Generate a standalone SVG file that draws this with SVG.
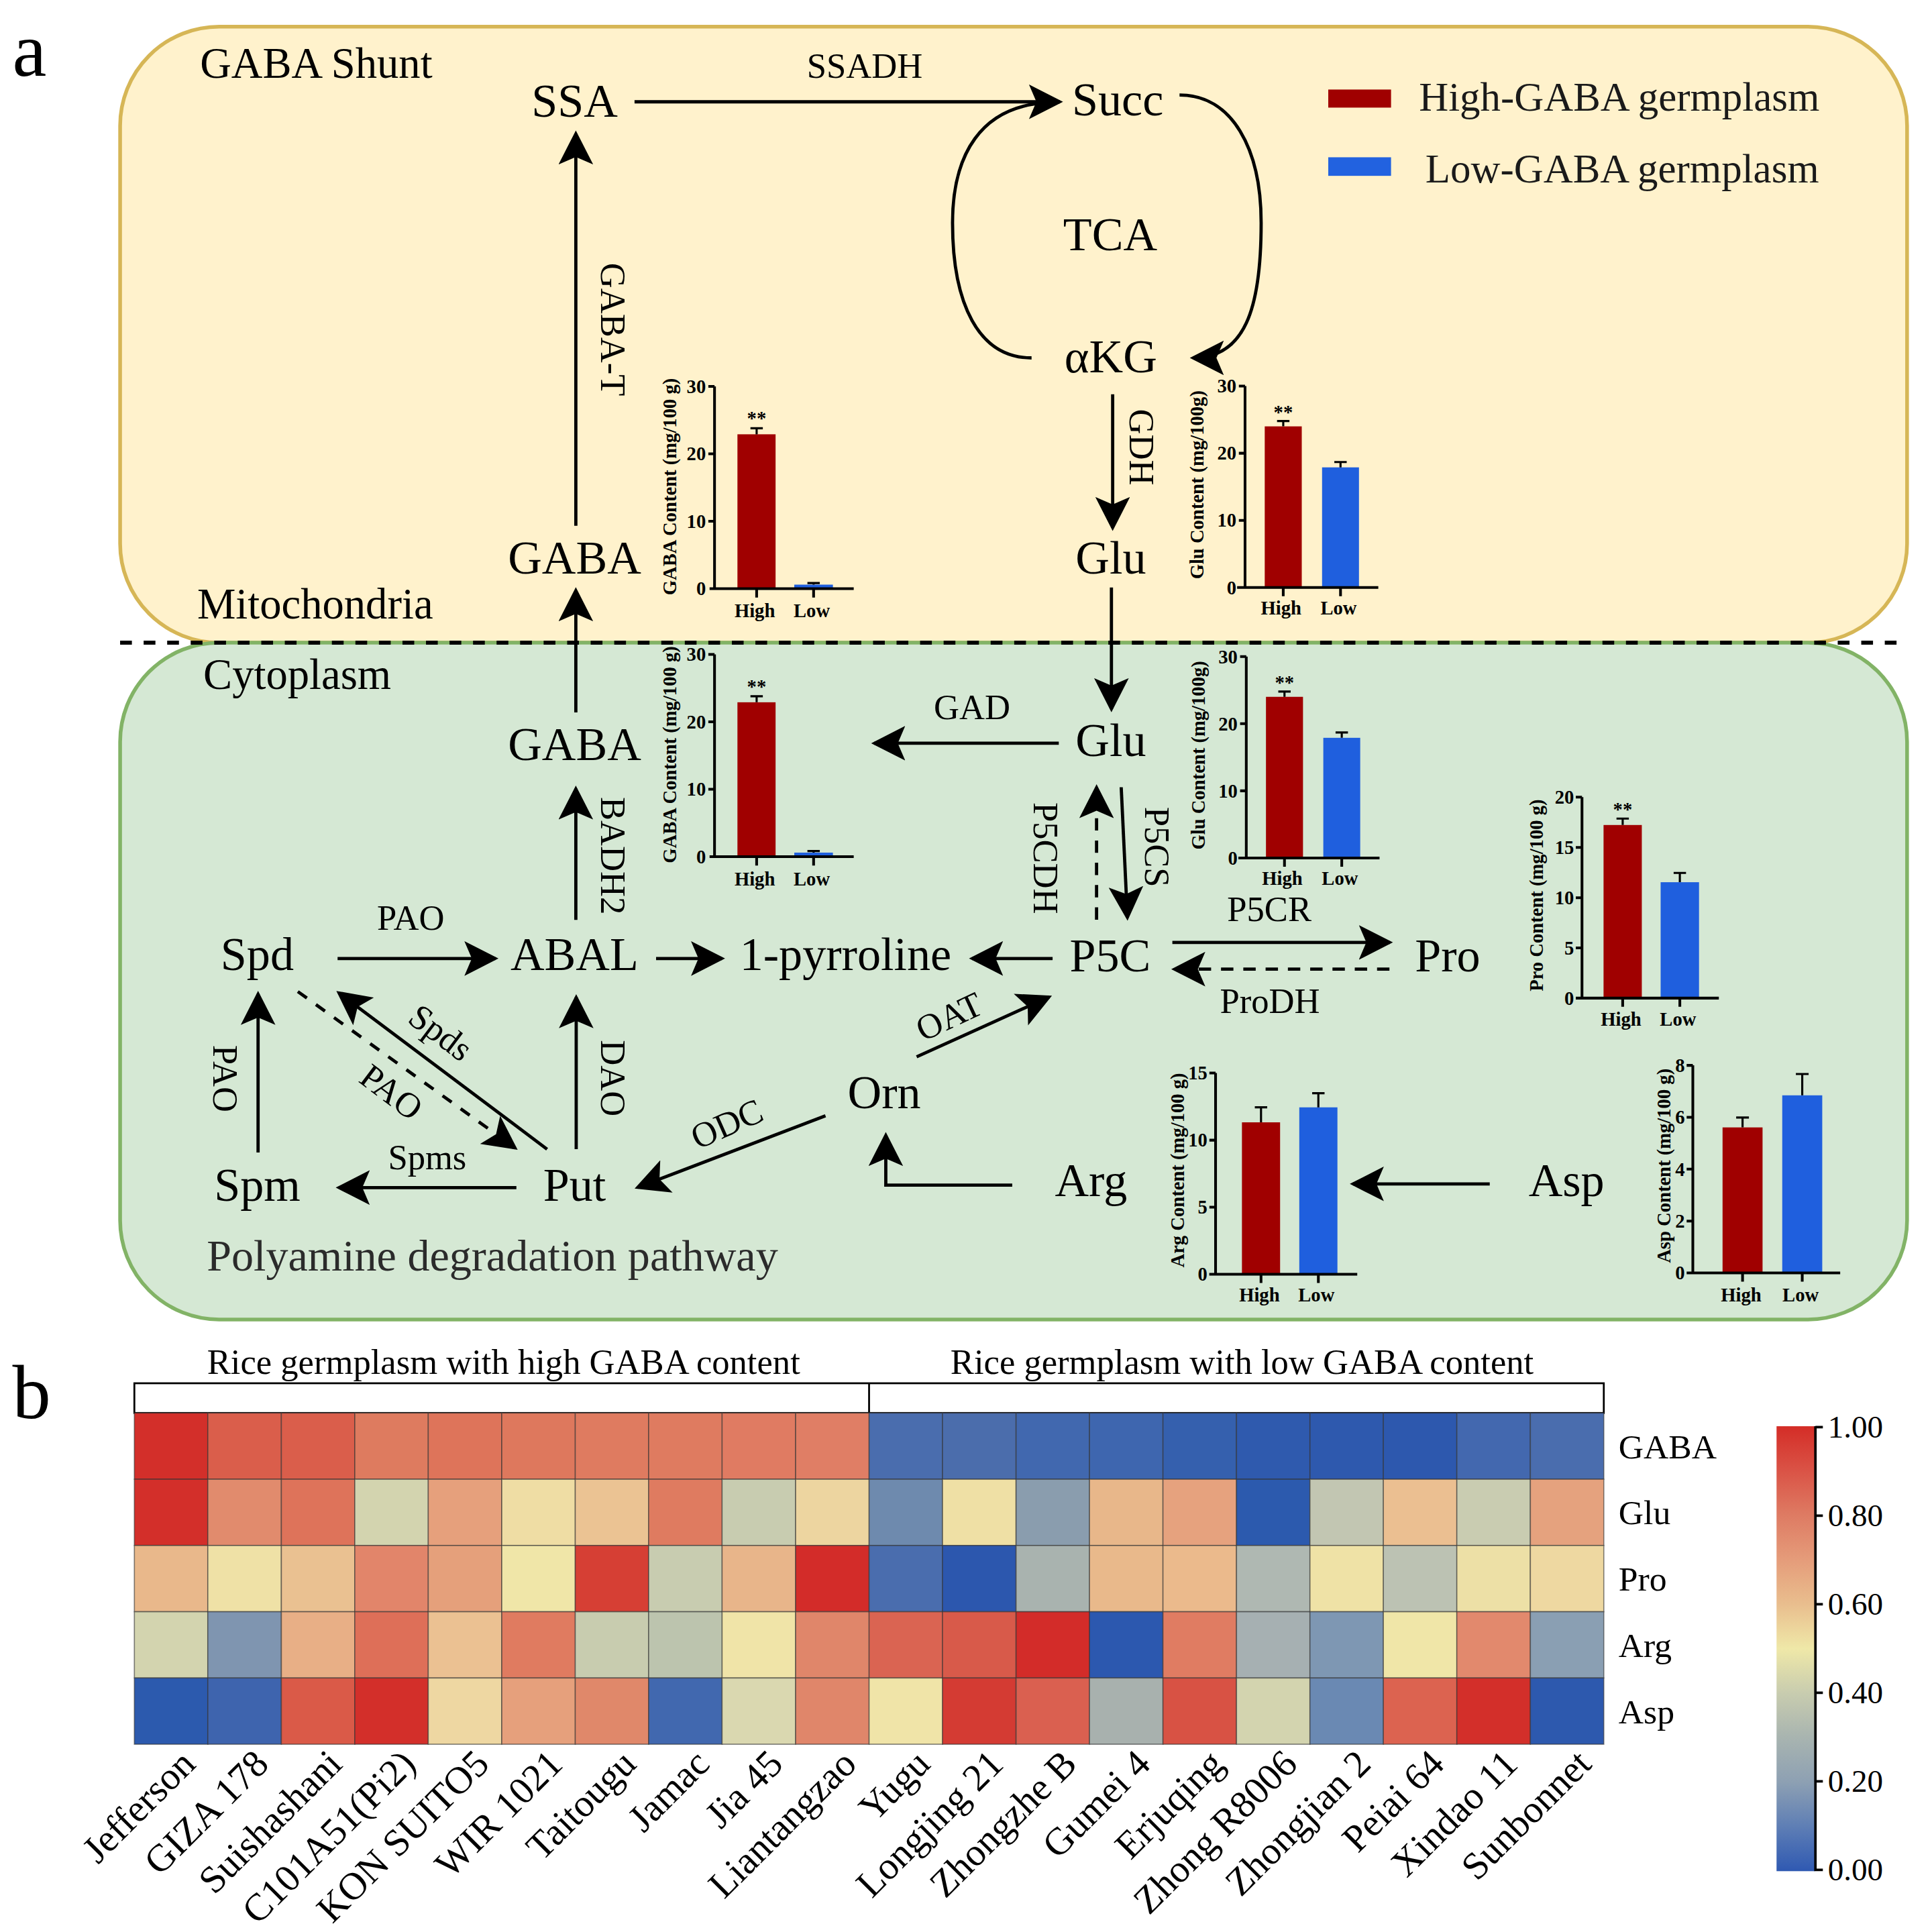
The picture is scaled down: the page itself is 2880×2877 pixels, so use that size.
<svg xmlns="http://www.w3.org/2000/svg" width="2880" height="2877" viewBox="0 0 2880 2877">
<defs>
<marker id="ah" markerUnits="userSpaceOnUse" viewBox="0 0 28 28" markerWidth="28" markerHeight="28" refX="25" refY="14" orient="auto"><path d="M0,0 L27.5,14 L0,28 L6,14 Z" fill="#000"/></marker>
<linearGradient id="cbar" x1="0" y1="0" x2="0" y2="1">
<stop offset="0" stop-color="#D42D27"/><stop offset="0.1" stop-color="#DA5346"/><stop offset="0.2" stop-color="#DE7B63"/><stop offset="0.3" stop-color="#E59C7A"/><stop offset="0.4" stop-color="#E9BE8E"/><stop offset="0.5" stop-color="#EFE8A8"/><stop offset="0.6" stop-color="#C8CCAF"/><stop offset="0.7" stop-color="#A8B4B0"/><stop offset="0.8" stop-color="#8DA0B3"/><stop offset="0.9" stop-color="#5E7EB5"/><stop offset="1" stop-color="#2F59B2"/>
</linearGradient>
<style>
text{font-family:"Liberation Serif","Times New Roman",serif;fill:#000}
.node{font-size:38px;text-anchor:middle}
.enz{font-size:28.5px;text-anchor:middle}
.panel{font-size:35px}
.lab{font-size:62px}
.leg{font-size:33px;fill:#1a1a1a}
.ch{font-weight:bold;font-size:15.5px}
.tk{font-weight:bold;font-size:15.5px;text-anchor:end}
.mid{text-anchor:middle}
.arr{fill:none;stroke:#000;stroke-width:2.6;marker-end:url(#ah)}
.ln{fill:none;stroke:#000;stroke-width:2.6}
.dsh{stroke-dasharray:10 8}
.ax{fill:none;stroke:#000;stroke-width:2.2}
.eb{fill:none;stroke:#000;stroke-width:1.7}
.red{fill:#A00000}
.blue{fill:#1F5FDE}
.cell{stroke:#333;stroke-width:0.9;stroke-opacity:0.6}
.col{font-size:31px;text-anchor:end}
.row{font-size:28px}
.cb{font-size:25.5px}
</style>
</defs>
<rect x="0" y="0" width="2880" height="2877" fill="#fff"/>
<g transform="scale(1.846)">
<g id="panels">
<rect id="mitochondria" x="97" y="21.5" width="1443" height="497.5" rx="80" ry="80" fill="#FFF2CC" stroke="#D6B656" stroke-width="3"/>
<rect id="cytoplasm" x="97" y="519" width="1443" height="546.5" rx="80" ry="80" fill="#D5E8D4" stroke="#82B366" stroke-width="3"/>
<path d="M97,519H1540" stroke="#000" stroke-width="3.3" stroke-dasharray="9.5 9.5" fill="none"/>
</g>
<text class="lab" x="10" y="61">a</text>
<text class="panel" x="161.5" y="63">GABA Shunt</text>
<text class="panel" x="159.2" y="499.2">Mitochondria</text>
<text class="panel" x="164.2" y="556.3">Cytoplasm</text>
<text class="panel" x="167" y="1026" style="font-size:35.8px;fill:#2b2b2b">Polyamine degradation pathway</text>
<g id="legend">
<rect x="1072.6" y="72.3" width="50.7" height="14.6" fill="#A00000"/>
<rect x="1072.6" y="127" width="50.7" height="15" fill="#2262E0"/>
<text class="leg" x="1145.8" y="89.6">High-GABA germplasm</text>
<text class="leg" x="1151" y="147.6">Low-GABA germplasm</text>
</g>
<g id="connectors">
<path class="arr" d="M512.4,82.2H855.9"/>
<path class="ln" d="M833,289 C790,289 769.2,245 769.2,180 C769.2,125 792,86 845,83"/>
<path class="arr" d="M952.5,76.7 C995,76.7 1018.4,120 1018.4,180 C1018.4,250 1005,289 963.3,289"/>
<path class="arr" d="M465,424.6V107.8"/>
<path class="arr" d="M898.5,318.4V426.3"/>
<path class="arr" d="M897.5,474.4V572.6"/>
<path class="arr" d="M465,575.3V476.7"/>
<path class="arr" d="M855,600.2H706"/>
<path class="arr" d="M465,742.8V636.8"/>
<path class="arr" d="M272.6,774H400"/>
<path class="arr" d="M529.8,774H583"/>
<path class="arr" d="M850,774H785"/>
<path class="arr" d="M946.7,761H1122.3"/>
<path class="arr dsh" d="M1122,782.6H948.3"/>
<path class="arr dsh" d="M885.5,742.7V635.7"/>
<path class="arr" d="M905.4,635.7L910.4,741"/>
<path class="arr" d="M208.4,930.7V802.6"/>
<path class="arr dsh" d="M240.5,800.7L416,927" style="stroke-dasharray:9 9"/>
<path class="arr" d="M441.8,928L273.6,801.7"/>
<path class="arr" d="M465.3,928V805.3"/>
<path class="arr" d="M417,959H273.6"/>
<path class="arr" d="M666.6,901L514.8,958.9"/>
<path class="arr" d="M740.2,853.4L847.2,805"/>
<path class="arr" d="M817.4,957H715.3V916.6"/>
<path class="arr" d="M1203,956H1092.5"/>
</g>
<g id="node-SSA"><text class="node" x="464" y="94.5">SSA</text></g>
<g id="node-Succ"><text class="node" x="902.6" y="93">Succ</text></g>
<g id="node-TCA"><text class="node" x="896.5" y="202">TCA</text></g>
<g id="node-aKG"><text class="node" x="897" y="300.6">αKG</text></g>
<g id="node-GABA-mito"><text class="node" x="464" y="463">GABA</text></g>
<g id="node-Glu-mito"><text class="node" x="897" y="463">Glu</text></g>
<g id="node-GABA-cyto"><text class="node" x="464" y="614">GABA</text></g>
<g id="node-Glu-cyto"><text class="node" x="897" y="610.5">Glu</text></g>
<g id="node-Spd"><text class="node" x="207.7" y="783.3">Spd</text></g>
<g id="node-ABAL"><text class="node" x="463.9" y="783.3">ABAL</text></g>
<g id="node-pyrroline"><text class="node" x="682.8" y="783.3">1-pyrroline</text></g>
<g id="node-P5C"><text class="node" x="896.5" y="784.3">P5C</text></g>
<g id="node-Pro"><text class="node" x="1169" y="784.3">Pro</text></g>
<g id="node-Orn"><text class="node" x="714" y="895">Orn</text></g>
<g id="node-Spm"><text class="node" x="207.8" y="969.6">Spm</text></g>
<g id="node-Put"><text class="node" x="464" y="969.6">Put</text></g>
<g id="node-Arg"><text class="node" x="881" y="965.7">Arg</text></g>
<g id="node-Asp"><text class="node" x="1265" y="965.7">Asp</text></g>
<g id="enzymes">
<text class="enz" x="698.3" y="63">SSADH</text>
<text class="enz" transform="translate(485.5,266) rotate(90)">GABA-T</text>
<text class="enz" transform="translate(912,361) rotate(90)">GDH</text>
<text class="enz" x="785" y="580.5">GAD</text>
<text class="enz" transform="translate(485.5,691) rotate(90)">BADH2</text>
<text class="enz" transform="translate(835,693) rotate(90)">P5CDH</text>
<text class="enz" transform="translate(924.5,684) rotate(90)">P5CS</text>
<text class="enz" x="331.7" y="750.8">PAO</text>
<text class="enz" x="1025" y="744">P5CR</text>
<text class="enz" x="1025.5" y="817.8">ProDH</text>
<text class="enz" transform="translate(766.5,821) rotate(-25)" y="9.4">OAT</text>
<text class="enz" transform="translate(587,907.7) rotate(-24)" y="9.4">ODC</text>
<text class="enz" transform="translate(355,835) rotate(37)" y="8">Spds</text>
<text class="enz" transform="translate(316,882) rotate(37)" y="9.4">PAO</text>
<text class="enz" transform="translate(172,871) rotate(90)">PAO</text>
<text class="enz" transform="translate(485.5,870.7) rotate(90)">DAO</text>
<text class="enz" x="345" y="944">Spms</text>
</g>
<g id="chart-gaba-mito">
<rect class="red" x="595.5" y="350.7" width="30.8" height="124.7"/>
<rect class="blue" x="641.4" y="472.1" width="31.2" height="3.3"/>
<path class="eb" d="M611,350.7V345.8M606,345.8H616M657,472.1V470.8M652,470.8H662"/>
<path class="ax" d="M577,312V475.4M573,475.4H689.4M572,420.9H577M572,366.5H577M572,312H577M611,475.4V482.5M657,475.4V482.5"/>
<text class="tk" x="570" y="480.7">0</text><text class="tk" x="570" y="426.2">10</text><text class="tk" x="570" y="371.8">20</text><text class="tk" x="570" y="317.3">30</text>
<text class="ch mid" x="611" y="343">**</text>
<text class="ch mid" x="609.5" y="498.5">High</text><text class="ch mid" x="655.5" y="498.5">Low</text>
<text class="ch mid" transform="translate(546,393) rotate(-90)">GABA Content (mg/100 g)</text>
</g>
<g id="chart-gaba-cyto" transform="translate(0,216.4)">
<rect class="red" x="595.5" y="350.7" width="30.8" height="124.7"/>
<rect class="blue" x="641.4" y="472.1" width="31.2" height="3.3"/>
<path class="eb" d="M611,350.7V345.8M606,345.8H616M657,472.1V470.8M652,470.8H662"/>
<path class="ax" d="M577,312V475.4M573,475.4H689.4M572,420.9H577M572,366.5H577M572,312H577M611,475.4V482.5M657,475.4V482.5"/>
<text class="tk" x="570" y="480.7">0</text><text class="tk" x="570" y="426.2">10</text><text class="tk" x="570" y="371.8">20</text><text class="tk" x="570" y="317.3">30</text>
<text class="ch mid" x="611" y="343">**</text>
<text class="ch mid" x="609.5" y="498.5">High</text><text class="ch mid" x="655.5" y="498.5">Low</text>
<text class="ch mid" transform="translate(546,393) rotate(-90)">GABA Content (mg/100 g)</text>
</g>
<g id="chart-glu-mito">
<rect class="red" x="1021.3" y="344.3" width="29.9" height="130.1"/>
<rect class="blue" x="1067.6" y="377.4" width="29.8" height="97"/>
<path class="eb" d="M1036.25,344.3V340M1031.25,340H1041.25M1082.5,377.4V373.1M1077.5,373.1H1087.5"/>
<path class="ax" d="M1005.4,311.8V474.4M999,474.4H1113M1000.4,420.2H1005.4M1000.4,366H1005.4M1000.4,311.8H1005.4M1036.25,474.4V481.5M1082.5,474.4V481.5"/>
<text class="tk" x="998.4" y="479.7">0</text><text class="tk" x="998.4" y="425.5">10</text><text class="tk" x="998.4" y="371.3">20</text><text class="tk" x="998.4" y="317.1">30</text>
<text class="ch mid" x="1036.25" y="338">**</text>
<text class="ch mid" x="1034.5" y="496">High</text><text class="ch mid" x="1081" y="496">Low</text>
<text class="ch mid" transform="translate(972,391.5) rotate(-90)">Glu Content (mg/100g)</text>
</g>
<g id="chart-glu-cyto" transform="translate(1,218.4)">
<rect class="red" x="1021.3" y="344.3" width="29.9" height="130.1"/>
<rect class="blue" x="1067.6" y="377.4" width="29.8" height="97"/>
<path class="eb" d="M1036.25,344.3V340M1031.25,340H1041.25M1082.5,377.4V373.1M1077.5,373.1H1087.5"/>
<path class="ax" d="M1005.4,311.8V474.4M999,474.4H1113M1000.4,420.2H1005.4M1000.4,366H1005.4M1000.4,311.8H1005.4M1036.25,474.4V481.5M1082.5,474.4V481.5"/>
<text class="tk" x="998.4" y="479.7">0</text><text class="tk" x="998.4" y="425.5">10</text><text class="tk" x="998.4" y="371.3">20</text><text class="tk" x="998.4" y="317.1">30</text>
<text class="ch mid" x="1036.25" y="338">**</text>
<text class="ch mid" x="1034.5" y="496">High</text><text class="ch mid" x="1081" y="496">Low</text>
<text class="ch mid" transform="translate(972,391.5) rotate(-90)">Glu Content (mg/100g)</text>
</g>
<g id="chart-pro">
<rect class="red" x="1294.9" y="666.2" width="30.9" height="139.8"/>
<rect class="blue" x="1341" y="712.4" width="31" height="93.6"/>
<path class="eb" d="M1310.35,666.2V661M1305.35,661H1315.35M1356.5,712.4V704.9M1351.5,704.9H1361.5"/>
<path class="ax" d="M1277.5,643.7V806M1272.5,806H1388M1272.5,765.4H1277.5M1272.5,724.9H1277.5M1272.5,684.3H1277.5M1272.5,643.7H1277.5M1310.35,806V813M1356.5,806V813"/>
<text class="tk" x="1271" y="811.3">0</text><text class="tk" x="1271" y="770.7">5</text><text class="tk" x="1271" y="730.2">10</text><text class="tk" x="1271" y="689.6">15</text><text class="tk" x="1271" y="649">20</text>
<text class="ch mid" x="1310.35" y="658.5">**</text>
<text class="ch mid" x="1309" y="828.5">High</text><text class="ch mid" x="1355" y="828.5">Low</text>
<text class="ch mid" transform="translate(1246,723) rotate(-90)">Pro Content (mg/100 g)</text>
</g>
<g id="chart-arg">
<rect class="red" x="1002.9" y="906.3" width="30.8" height="122.7"/>
<rect class="blue" x="1049.2" y="894.2" width="30.8" height="134.8"/>
<path class="eb" d="M1018.3,906.3V894.2M1013.3,894.2H1023.3M1064.6,894.2V882.8M1059.6,882.8H1069.6"/>
<path class="ax" d="M981.6,866.5V1029M976.5,1029H1096M976.6,974.8H981.6M976.6,920.7H981.6M976.6,866.5H981.6M1018.3,1029V1036M1064.6,1029V1036"/>
<text class="tk" x="975" y="1034.3">0</text><text class="tk" x="975" y="980.1">5</text><text class="tk" x="975" y="926">10</text><text class="tk" x="975" y="871.8">15</text>
<text class="ch mid" x="1017" y="1051">High</text><text class="ch mid" x="1063" y="1051">Low</text>
<text class="ch mid" transform="translate(956,945) rotate(-90)">Arg Content (mg/100 g)</text>
</g>
<g id="chart-asp">
<rect class="red" x="1391" y="910.4" width="32.3" height="117.5"/>
<rect class="blue" x="1439.2" y="884.5" width="32.3" height="143.4"/>
<path class="eb" d="M1407.15,910.4V902.4M1402,902.4H1412.3M1455.35,884.5V867.3M1450.2,867.3H1460.5"/>
<path class="ax" d="M1367,860.3V1027.9M1362,1027.9H1486M1362,986H1367M1362,944.1H1367M1362,902.2H1367M1362,860.3H1367M1407.15,1027.9V1035M1455.35,1027.9V1035"/>
<text class="tk" x="1360.5" y="1033.2">0</text><text class="tk" x="1360.5" y="991.3">2</text><text class="tk" x="1360.5" y="949.4">4</text><text class="tk" x="1360.5" y="907.5">6</text><text class="tk" x="1360.5" y="865.6">8</text>
<text class="ch mid" x="1406" y="1051">High</text><text class="ch mid" x="1454" y="1051">Low</text>
<text class="ch mid" transform="translate(1349,941.4) rotate(-90)">Asp Content (mg/100 g)</text>
</g>
<g id="panel-b">
<text class="lab" x="10" y="1145">b</text>
<text x="406.7" y="1109.2" style="font-size:28.5px;text-anchor:middle">Rice germplasm with high GABA content</text>
<text x="1003" y="1109.2" style="font-size:28.5px;text-anchor:middle">Rice germplasm with low GABA content</text>
<rect x="108.5" y="1117" width="1186.6" height="24" fill="#fff" stroke="#000" stroke-width="1.5"/>
<path d="M701.8,1117V1141" stroke="#000" stroke-width="1.5"/>
<g id="heatmap">
<rect class="cell" x="108.5" y="1141" width="59.4" height="53.5" fill="#D32F2A"/><rect class="cell" x="108.5" y="1194.5" width="59.4" height="53.5" fill="#D32F2A"/><rect class="cell" x="108.5" y="1248" width="59.4" height="53.5" fill="#E9B88B"/><rect class="cell" x="108.5" y="1301.5" width="59.4" height="53.5" fill="#D3D4AF"/><rect class="cell" x="108.5" y="1355" width="59.4" height="53.5" fill="#2C5AAE"/>
<rect class="cell" x="167.8" y="1141" width="59.4" height="53.5" fill="#DA5E4B"/><rect class="cell" x="167.8" y="1194.5" width="59.4" height="53.5" fill="#E18B6D"/><rect class="cell" x="167.8" y="1248" width="59.4" height="53.5" fill="#EFE1A6"/><rect class="cell" x="167.8" y="1301.5" width="59.4" height="53.5" fill="#7F95B0"/><rect class="cell" x="167.8" y="1355" width="59.4" height="53.5" fill="#3E64AE"/>
<rect class="cell" x="227.2" y="1141" width="59.4" height="53.5" fill="#DA5E4B"/><rect class="cell" x="227.2" y="1194.5" width="59.4" height="53.5" fill="#DE735A"/><rect class="cell" x="227.2" y="1248" width="59.4" height="53.5" fill="#EAC191"/><rect class="cell" x="227.2" y="1301.5" width="59.4" height="53.5" fill="#E8AF86"/><rect class="cell" x="227.2" y="1355" width="59.4" height="53.5" fill="#DA5A48"/>
<rect class="cell" x="286.5" y="1141" width="59.4" height="53.5" fill="#DE7B5F"/><rect class="cell" x="286.5" y="1194.5" width="59.4" height="53.5" fill="#D3D4AF"/><rect class="cell" x="286.5" y="1248" width="59.4" height="53.5" fill="#E2856A"/><rect class="cell" x="286.5" y="1301.5" width="59.4" height="53.5" fill="#DE6F58"/><rect class="cell" x="286.5" y="1355" width="59.4" height="53.5" fill="#D32F2A"/>
<rect class="cell" x="345.8" y="1141" width="59.4" height="53.5" fill="#DE745A"/><rect class="cell" x="345.8" y="1194.5" width="59.4" height="53.5" fill="#E6A07C"/><rect class="cell" x="345.8" y="1248" width="59.4" height="53.5" fill="#E5A07B"/><rect class="cell" x="345.8" y="1301.5" width="59.4" height="53.5" fill="#EBC192"/><rect class="cell" x="345.8" y="1355" width="59.4" height="53.5" fill="#EED7A2"/>
<rect class="cell" x="405.2" y="1141" width="59.4" height="53.5" fill="#DE785D"/><rect class="cell" x="405.2" y="1194.5" width="59.4" height="53.5" fill="#EFDDA4"/><rect class="cell" x="405.2" y="1248" width="59.4" height="53.5" fill="#F0E6A8"/><rect class="cell" x="405.2" y="1301.5" width="59.4" height="53.5" fill="#E07B60"/><rect class="cell" x="405.2" y="1355" width="59.4" height="53.5" fill="#E6A07C"/>
<rect class="cell" x="464.5" y="1141" width="59.4" height="53.5" fill="#DF7B60"/><rect class="cell" x="464.5" y="1194.5" width="59.4" height="53.5" fill="#EBC393"/><rect class="cell" x="464.5" y="1248" width="59.4" height="53.5" fill="#D63F34"/><rect class="cell" x="464.5" y="1301.5" width="59.4" height="53.5" fill="#C8CCAF"/><rect class="cell" x="464.5" y="1355" width="59.4" height="53.5" fill="#E0886A"/>
<rect class="cell" x="523.8" y="1141" width="59.4" height="53.5" fill="#DF7B60"/><rect class="cell" x="523.8" y="1194.5" width="59.4" height="53.5" fill="#DF7B60"/><rect class="cell" x="523.8" y="1248" width="59.4" height="53.5" fill="#C8CCB0"/><rect class="cell" x="523.8" y="1301.5" width="59.4" height="53.5" fill="#BCC4AE"/><rect class="cell" x="523.8" y="1355" width="59.4" height="53.5" fill="#4168AF"/>
<rect class="cell" x="583.1" y="1141" width="59.4" height="53.5" fill="#E07B62"/><rect class="cell" x="583.1" y="1194.5" width="59.4" height="53.5" fill="#C8CCB0"/><rect class="cell" x="583.1" y="1248" width="59.4" height="53.5" fill="#E8B58A"/><rect class="cell" x="583.1" y="1301.5" width="59.4" height="53.5" fill="#F0E4A8"/><rect class="cell" x="583.1" y="1355" width="59.4" height="53.5" fill="#DAD8B0"/>
<rect class="cell" x="642.5" y="1141" width="59.4" height="53.5" fill="#E07E65"/><rect class="cell" x="642.5" y="1194.5" width="59.4" height="53.5" fill="#EDD5A0"/><rect class="cell" x="642.5" y="1248" width="59.4" height="53.5" fill="#D32C29"/><rect class="cell" x="642.5" y="1301.5" width="59.4" height="53.5" fill="#E0866A"/><rect class="cell" x="642.5" y="1355" width="59.4" height="53.5" fill="#E0866A"/>
<rect class="cell" x="701.8" y="1141" width="59.4" height="53.5" fill="#4A6DAE"/><rect class="cell" x="701.8" y="1194.5" width="59.4" height="53.5" fill="#6E8AAE"/><rect class="cell" x="701.8" y="1248" width="59.4" height="53.5" fill="#4A6DAE"/><rect class="cell" x="701.8" y="1301.5" width="59.4" height="53.5" fill="#DA6452"/><rect class="cell" x="701.8" y="1355" width="59.4" height="53.5" fill="#F0E4A8"/>
<rect class="cell" x="761.1" y="1141" width="59.4" height="53.5" fill="#4B6DAC"/><rect class="cell" x="761.1" y="1194.5" width="59.4" height="53.5" fill="#EFE0A5"/><rect class="cell" x="761.1" y="1248" width="59.4" height="53.5" fill="#2C57AE"/><rect class="cell" x="761.1" y="1301.5" width="59.4" height="53.5" fill="#D85A4A"/><rect class="cell" x="761.1" y="1355" width="59.4" height="53.5" fill="#D43B33"/>
<rect class="cell" x="820.5" y="1141" width="59.4" height="53.5" fill="#4168AF"/><rect class="cell" x="820.5" y="1194.5" width="59.4" height="53.5" fill="#8A9DAE"/><rect class="cell" x="820.5" y="1248" width="59.4" height="53.5" fill="#A9B3AF"/><rect class="cell" x="820.5" y="1301.5" width="59.4" height="53.5" fill="#D32C29"/><rect class="cell" x="820.5" y="1355" width="59.4" height="53.5" fill="#DA6050"/>
<rect class="cell" x="879.8" y="1141" width="59.4" height="53.5" fill="#3E66AF"/><rect class="cell" x="879.8" y="1194.5" width="59.4" height="53.5" fill="#E8B78A"/><rect class="cell" x="879.8" y="1248" width="59.4" height="53.5" fill="#E9B98B"/><rect class="cell" x="879.8" y="1301.5" width="59.4" height="53.5" fill="#2C58AF"/><rect class="cell" x="879.8" y="1355" width="59.4" height="53.5" fill="#A8B1AE"/>
<rect class="cell" x="939.1" y="1141" width="59.4" height="53.5" fill="#3560AE"/><rect class="cell" x="939.1" y="1194.5" width="59.4" height="53.5" fill="#E6A27E"/><rect class="cell" x="939.1" y="1248" width="59.4" height="53.5" fill="#EBBA8C"/><rect class="cell" x="939.1" y="1301.5" width="59.4" height="53.5" fill="#E07C62"/><rect class="cell" x="939.1" y="1355" width="59.4" height="53.5" fill="#D85244"/>
<rect class="cell" x="998.5" y="1141" width="59.4" height="53.5" fill="#2F5AAE"/><rect class="cell" x="998.5" y="1194.5" width="59.4" height="53.5" fill="#2C5AAE"/><rect class="cell" x="998.5" y="1248" width="59.4" height="53.5" fill="#AFB8B2"/><rect class="cell" x="998.5" y="1301.5" width="59.4" height="53.5" fill="#A6B0B2"/><rect class="cell" x="998.5" y="1355" width="59.4" height="53.5" fill="#D3D4AF"/>
<rect class="cell" x="1057.8" y="1141" width="59.4" height="53.5" fill="#2E59AE"/><rect class="cell" x="1057.8" y="1194.5" width="59.4" height="53.5" fill="#C2C6B2"/><rect class="cell" x="1057.8" y="1248" width="59.4" height="53.5" fill="#EFE2A6"/><rect class="cell" x="1057.8" y="1301.5" width="59.4" height="53.5" fill="#7E97B3"/><rect class="cell" x="1057.8" y="1355" width="59.4" height="53.5" fill="#6A89B3"/>
<rect class="cell" x="1117.1" y="1141" width="59.4" height="53.5" fill="#2D58AE"/><rect class="cell" x="1117.1" y="1194.5" width="59.4" height="53.5" fill="#EBBF91"/><rect class="cell" x="1117.1" y="1248" width="59.4" height="53.5" fill="#BCC2B3"/><rect class="cell" x="1117.1" y="1301.5" width="59.4" height="53.5" fill="#F0E6A8"/><rect class="cell" x="1117.1" y="1355" width="59.4" height="53.5" fill="#DC6350"/>
<rect class="cell" x="1176.4" y="1141" width="59.4" height="53.5" fill="#4368AF"/><rect class="cell" x="1176.4" y="1194.5" width="59.4" height="53.5" fill="#C9CCB1"/><rect class="cell" x="1176.4" y="1248" width="59.4" height="53.5" fill="#EDE0A6"/><rect class="cell" x="1176.4" y="1301.5" width="59.4" height="53.5" fill="#E2896D"/><rect class="cell" x="1176.4" y="1355" width="59.4" height="53.5" fill="#D32F2A"/>
<rect class="cell" x="1235.8" y="1141" width="59.3" height="53.5" fill="#4A6DAE"/><rect class="cell" x="1235.8" y="1194.5" width="59.3" height="53.5" fill="#E5A27E"/><rect class="cell" x="1235.8" y="1248" width="59.3" height="53.5" fill="#EED8A1"/><rect class="cell" x="1235.8" y="1301.5" width="59.3" height="53.5" fill="#8A9FB3"/><rect class="cell" x="1235.8" y="1355" width="59.3" height="53.5" fill="#2D59AE"/>
</g>
<g id="row-labels">
<text class="row" x="1307" y="1177.5">GABA</text>
<text class="row" x="1307" y="1231">Glu</text>
<text class="row" x="1307" y="1284.5">Pro</text>
<text class="row" x="1307" y="1338">Arg</text>
<text class="row" x="1307" y="1391.5">Asp</text>
</g>
<g id="col-labels">
<text class="col" transform="translate(159.2,1426) rotate(-45)">Jefferson</text>
<text class="col" transform="translate(218.5,1426) rotate(-45)">GIZA 178</text>
<text class="col" transform="translate(277.8,1426) rotate(-45)">Suishashani</text>
<text class="col" transform="translate(337.2,1426) rotate(-45)">C101A51(Pi2)</text>
<text class="col" transform="translate(396.5,1426) rotate(-45)">KON SUITO5</text>
<text class="col" transform="translate(455.8,1426) rotate(-45)">WIR 1021</text>
<text class="col" transform="translate(515.2,1426) rotate(-45)">Taitougu</text>
<text class="col" transform="translate(574.5,1426) rotate(-45)">Jamac</text>
<text class="col" transform="translate(633.8,1426) rotate(-45)">Jia 45</text>
<text class="col" transform="translate(693.1,1426) rotate(-45)">Liantangzao</text>
<text class="col" transform="translate(752.5,1426) rotate(-45)">Yugu</text>
<text class="col" transform="translate(811.8,1426) rotate(-45)">Longjing 21</text>
<text class="col" transform="translate(871.1,1426) rotate(-45)">Zhongzhe B</text>
<text class="col" transform="translate(930.5,1426) rotate(-45)">Gumei 4</text>
<text class="col" transform="translate(989.8,1426) rotate(-45)">Erjuqing</text>
<text class="col" transform="translate(1049.1,1426) rotate(-45)">Zhong R8006</text>
<text class="col" transform="translate(1108.5,1426) rotate(-45)">Zhongjian 2</text>
<text class="col" transform="translate(1167.8,1426) rotate(-45)">Peiai 64</text>
<text class="col" transform="translate(1227.1,1426) rotate(-45)">Xindao 11</text>
<text class="col" transform="translate(1286.5,1426) rotate(-45)">Sunbonnet</text>
</g>
<g id="colorbar">
<rect x="1434.6" y="1151.7" width="31" height="359.3" fill="url(#cbar)"/>
<path d="M1466,1151.7V1511M1466,1152.4H1472M1466,1223.9H1472M1466,1295.4H1472M1466,1366.9H1472M1466,1438.4H1472M1466,1510H1472" stroke="#000" stroke-width="2" fill="none"/>
<text class="cb" x="1476" y="1160.9">1.00</text>
<text class="cb" x="1476" y="1232.4">0.80</text>
<text class="cb" x="1476" y="1303.9">0.60</text>
<text class="cb" x="1476" y="1375.4">0.40</text>
<text class="cb" x="1476" y="1446.9">0.20</text>
<text class="cb" x="1476" y="1518.5">0.00</text>
</g>
</g>
</g>
</svg>
